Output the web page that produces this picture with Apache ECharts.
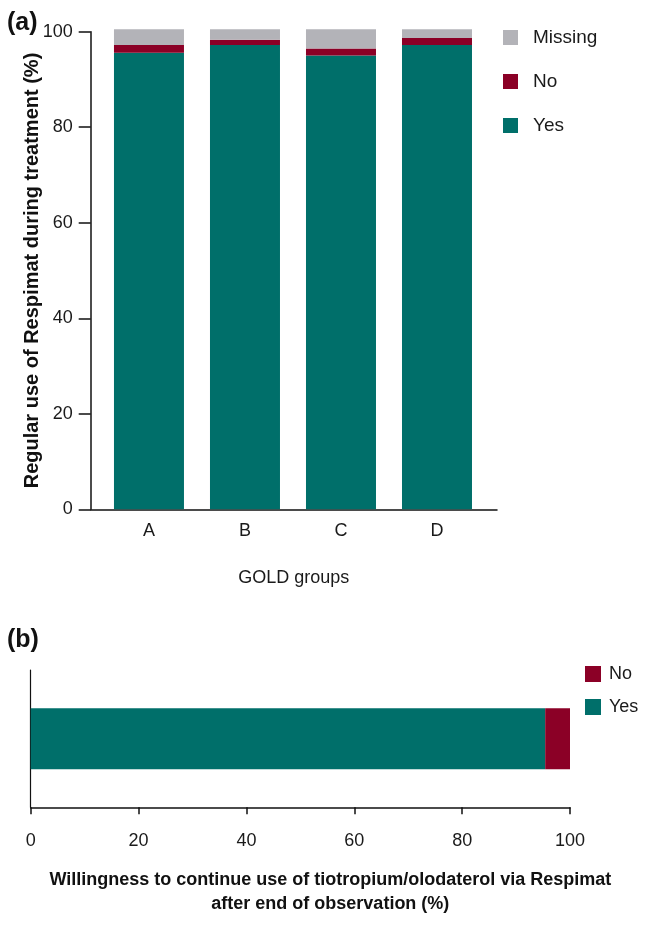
<!DOCTYPE html>
<html>
<head>
<meta charset="utf-8">
<script src="https://cdn.jsdelivr.net/npm/echarts@6/dist/echarts.min.js"></script>
<style>
  html, body { margin: 0; padding: 0; background: #ffffff; }
  #chart { width: 645px; height: 926px; }
</style>
</head>
<body>
<div id="chart"></div>
<script>
// ---- Data (panel a) ----
const categories = ['A', 'B', 'C', 'D'];
const yesA = [95.6, 97.2, 95.0, 97.2];
const noA = [1.6, 1.1, 1.5, 1.5];
const missingA = [3.3, 2.2, 4.0, 1.8];
const yTicksA = [0, 20, 40, 60, 80, 100];

// ---- Data (panel b) ----
const yesB = [95.4];
const noB = [4.6];
const xTicksB = [0, 20, 40, 60, 80, 100];

const COLORS = { Yes: '#006f6a', No: '#8b0026', Missing: '#b3b3b8' };
const FONT = "'Liberation Sans', Arial, Helvetica, sans-serif";
const TXT = '#1a1a1a';

const catIndex = categories.map((c, i) => i);
// value first, category position second (encode maps them to y / x)
const toPairs = arr => arr.map((v, i) => [v, catIndex[i]]);

const chart = echarts.init(document.getElementById('chart'), null, { renderer: 'canvas' });

const barA = (name, arr) => ({
  name, type: 'bar', stack: 'a', xAxisIndex: 0, yAxisIndex: 0, barWidth: 70, clip: false,
  encode: { x: 1, y: 0 },
  itemStyle: { color: COLORS[name] }, data: toPairs(arr)
});

const option = {
  animation: false,
  backgroundColor: '#ffffff',
  textStyle: { fontFamily: FONT, color: TXT },
  title: [
    { text: '(a)', left: 2, top: 6, textStyle: { fontSize: 25, fontWeight: 'bold', color: '#111', fontFamily: FONT } },
    { text: '(b)', left: 2, top: 623, textStyle: { fontSize: 25, fontWeight: 'bold', color: '#111', fontFamily: FONT } }
  ],
  legend: [
    {
      data: ['Missing', 'No', 'Yes'],
      orient: 'vertical', left: 503, top: 28, padding: 0,
      icon: 'rect', itemWidth: 15, itemHeight: 15, itemGap: 25,
      selectedMode: false,
      textStyle: { fontSize: 19, color: TXT, fontFamily: FONT, padding: [0, 0, 0, 10] }
    },
    {
      data: ['No', 'Yes'],
      orient: 'vertical', left: 585, top: 665, padding: 0,
      icon: 'rect', itemWidth: 16, itemHeight: 16, itemGap: 15,
      selectedMode: false,
      textStyle: { fontSize: 18, color: TXT, fontFamily: FONT, padding: [0, 0, 0, 3] }
    }
  ],
  grid: [
    { left: 90.7, right: 148, top: 31.7, bottom: 416.7, outerBoundsMode: 'none' },
    { left: 30.7, right: 75, top: 670, bottom: 118.7, outerBoundsMode: 'none' }
  ],
  xAxis: [
    {
      gridIndex: 0, type: 'value', min: -0.607, max: 3.625,
      splitLine: { show: false },
      axisLine: { show: true, onZero: false, lineStyle: { color: '#111', width: 1.5 } },
      axisTick: { show: false },
      axisLabel: {
        customValues: catIndex,
        formatter: v => categories[Math.round(v)],
        fontSize: 18, color: TXT, margin: 13, fontFamily: FONT
      },
      name: 'GOLD groups', nameLocation: 'middle', nameGap: 60,
      nameTextStyle: { fontSize: 18, color: TXT, fontFamily: FONT }
    },
    {
      gridIndex: 1, type: 'value', min: 0, max: 100, interval: 20,
      splitLine: { show: false },
      axisLine: { show: true, onZero: false, lineStyle: { color: '#111', width: 1.5 } },
      axisTick: { show: true, length: 7, lineStyle: { color: '#111', width: 1.5 } },
      axisLabel: { fontSize: 18, color: TXT, margin: 25, fontFamily: FONT, showMaxLabel: true, showMinLabel: true },
      name: 'Willingness to continue use of tiotropium/olodaterol via Respimat\nafter end of observation (%)',
      nameLocation: 'middle', nameGap: 61,
      nameTextStyle: { fontSize: 18, fontWeight: 'bold', color: '#111', lineHeight: 24, fontFamily: FONT, padding: [0, 0, 0, 60] }
    }
  ],
  yAxis: [
    {
      gridIndex: 0, type: 'value', min: 0, max: 100, interval: 20,
      splitLine: { show: false },
      axisLine: { show: true, onZero: false, lineStyle: { color: '#111', width: 1.5 } },
      axisTick: { show: true, length: 12, lineStyle: { color: '#111', width: 1.5 } },
      axisLabel: { fontSize: 18, color: TXT, margin: 18, fontFamily: FONT },
      name: 'Regular use of Respimat during treatment (%)',
      nameLocation: 'middle', nameGap: 48, nameMoveOverlap: false,
      nameTextStyle: { fontSize: 20, fontWeight: 'bold', color: '#111', fontFamily: FONT }
    },
    {
      gridIndex: 1, type: 'category', data: [''],
      axisLine: { show: true, onZero: false, lineStyle: { color: '#111', width: 1.2 } },
      axisTick: { show: false },
      axisLabel: { show: false }
    }
  ],
  series: [
    barA('Yes', yesA),
    barA('No', noA),
    barA('Missing', missingA),
    { name: 'Yes', type: 'bar', stack: 'b', xAxisIndex: 1, yAxisIndex: 1, barWidth: 61,
      itemStyle: { color: COLORS.Yes }, data: yesB },
    { name: 'No', type: 'bar', stack: 'b', xAxisIndex: 1, yAxisIndex: 1, barWidth: 61,
      itemStyle: { color: COLORS.No }, data: noB }
  ]
};

chart.setOption(option);
</script>
</body>
</html>
